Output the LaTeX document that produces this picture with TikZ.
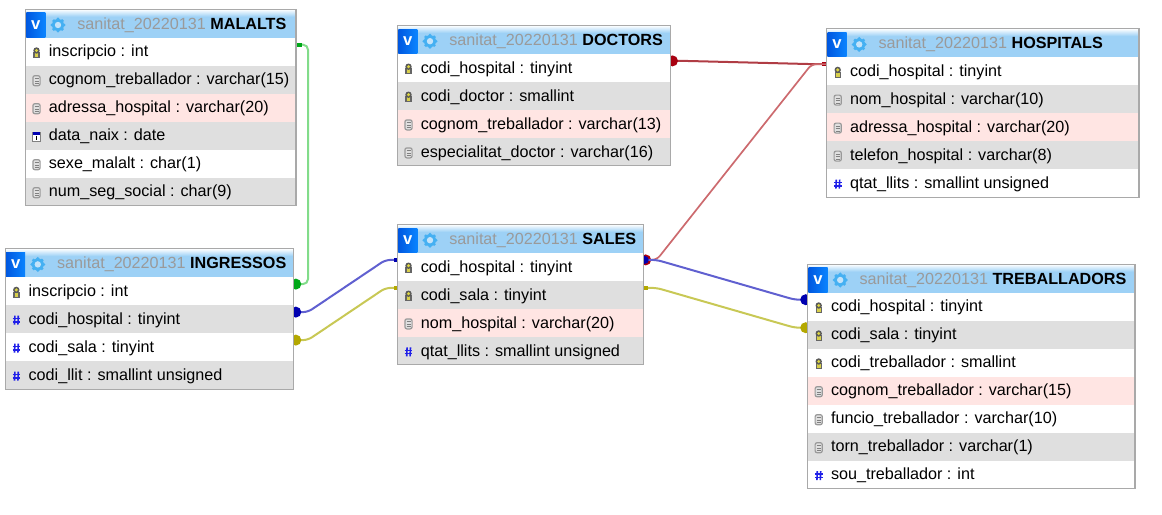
\documentclass[tikz,border=0pt]{standalone}
\usepackage{fontspec}
\setmainfont{Liberation Sans}
\usetikzlibrary{positioning,backgrounds}

\definecolor{headblue}{HTML}{9DD1F6}
\definecolor{rowgreycol}{HTML}{DFDFDF}
\definecolor{rowpinkcol}{HTML}{FFE5E3}
\definecolor{edgegrey}{HTML}{A9A9A9}
\definecolor{titlegrey}{HTML}{9A9A9A}
\definecolor{gearblue}{HTML}{45B0F2}
\definecolor{hashblue}{HTML}{2020E8}
\definecolor{vleft}{HTML}{0058E0}
\definecolor{vright}{HTML}{0A84FF}
\definecolor{greenline}{HTML}{82DC8A}
\definecolor{greencap}{HTML}{00A818}
\definecolor{blueline}{HTML}{6060D0}
\definecolor{bluecap}{HTML}{0000B0}
\definecolor{yellowline}{HTML}{C8C855}
\definecolor{yellowcap}{HTML}{B4A800}
\definecolor{redline}{HTML}{CC6A6E}
\definecolor{reddark}{HTML}{B03C44}
\definecolor{redcap}{HTML}{A80010}

\pgfdeclareverticalshading{headshade}{100bp}{color(0bp)=(headblue); color(62bp)=(headblue); color(75bp)=(white); color(100bp)=(white)}

\def\px{0.02cm}

\tikzset{
    headbox/.style={anchor=north west, minimum height=28.4*\px, inner sep=0pt, outer sep=0pt, shading=headshade},
    headtext/.style={anchor=west, inner sep=0pt, font=\fontsize{9.2}{11}\selectfont, text height=7pt, text depth=2pt},
    vbox/.style={anchor=west, minimum width=19*\px, minimum height=24.4*\px, inner sep=0pt, left color=vleft, right color=vright, text=white, font=\fontsize{9.5}{11}\selectfont\bfseries},
    rowbox/.style={minimum height=28*\px, inner sep=0pt, outer sep=0pt},
    rowwhite/.style={fill=white},
    rowgrey/.style={fill=rowgreycol},
    rowpink/.style={fill=rowpinkcol},
    rowtext/.style={anchor=west, inner sep=0pt, font=\fontsize{9.2}{11}\selectfont, text height=7pt, text depth=2pt},
    tableedge/.style={draw=edgegrey, line width=1.1*\px},
    link/.style={line width=2*\px, rounded corners=5*\px},
    keyicon/.pic={
        \fill[black!60] (-3.2,-0.5) rectangle (3.2,5.5);
        \fill[yellow!65!gray] (-1.8,0.5) rectangle (1.8,4.5);
        \fill[black!65] (0,-2.2) circle[radius=3.2];
        \fill[yellow!70!gray] (0,-2.2) circle[radius=1.7];
    },
    texticon/.pic={
        \draw[black!40, fill=black!12, line width=1.2*\px, rounded corners=2*\px] (-3.6,-5) rectangle (3.6,5);
        \draw[black!50, line width=0.9*\px] (-2,-2) -- (2,-2);
        \draw[black!50, line width=0.9*\px] (-2,0.5) -- (2,0.5);
        \draw[black!50, line width=0.9*\px] (-2,3) -- (2,3);
    },
    dateicon/.pic={
        \draw[black!50, fill=white, line width=1*\px] (-3.6,-4) rectangle (3.6,4.5);
        \fill[blue!70!black] (-3.6,-4.5) rectangle (3.6,-1.8);
        \draw[black, line width=1*\px] (0,-0.8) -- (0,3);
    },
    hashicon/.pic={
        \draw[hashblue, line width=1.6*\px] (-1.4,-4.5) -- (-1.8,4.5);
        \draw[hashblue, line width=1.6*\px] (2,-4.5) -- (1.6,4.5);
        \draw[hashblue, line width=1.6*\px] (-3.8,-1.6) -- (3.8,-1.6);
        \draw[hashblue, line width=1.6*\px] (-3.8,1.6) -- (3.8,1.6);
    },
    gearicon/.pic={
        \foreach \a in {0,45,...,315} {
            \fill[gearblue] (\a:5.8) circle[radius=1.8];
        }
        \fill[gearblue] (0,0) circle[radius=6];
        \fill[headblue!60!white] (0,0) circle[radius=3.2];
    },
}

% name, top left corner, width, title
\newcommand{\tablehead}[4]{
    \def\tablewidth{#3}
    \node[headbox, minimum width=#3*\px] (#1) at #2 {};
    \node[vbox] (#1v) at ([shift={(0.5,1.5)}]#1.west) {v};
    \pic at ([shift={(32.5,1.5)}]#1.west) {gearicon};
    \node[headtext] (#1t) at ([shift={(51.5,1.5)}]#1.west) {\textcolor{titlegrey}{sanitat\_20220131} \textbf{#4}};
}

% name, row above, fill style, icon, text
\newcommand{\tablerow}[5]{
    \node[rowbox, #3, minimum width=\tablewidth*\px, below=0pt of #2] (#1) {};
    \pic at ([shift={(11,1)}]#1.west) {#4};
    \node[rowtext] (#1t) at ([shift={(23,0.8)}]#1.west) {#5};
    \coordinate (#1E) at ([shift={(0,-7)}]#1.east);
    \coordinate (#1W) at ([shift={(0,-7)}]#1.west);
}

\begin{document}
\begin{tikzpicture}[x=\px, y=-\px]
    \useasboundingbox (0,0) rectangle (1162,514);

    % MALALTS
    \tablehead{mal}{(25.5,9.3)}{270.5}{MALALTS}
    \tablerow{mal1}{mal}{rowwhite}{keyicon}{inscripcio : int}
    \tablerow{mal2}{mal1}{rowgrey}{texticon}{cognom\_treballador : varchar(15)}
    \tablerow{mal3}{mal2}{rowpink}{texticon}{adressa\_hospital : varchar(20)}
    \tablerow{mal4}{mal3}{rowgrey}{dateicon}{data\_naix : date}
    \tablerow{mal5}{mal4}{rowwhite}{texticon}{sexe\_malalt : char(1)}
    \tablerow{mal6}{mal5}{rowgrey}{texticon}{num\_seg\_social : char(9)}
    \draw[tableedge] (mal.north west) rectangle (mal6.south east);

    % INGRESSOS
    \tablehead{ing}{(5.3,248.7)}{288.5}{INGRESSOS}
    \tablerow{ing1}{ing}{rowwhite}{keyicon}{inscripcio : int}
    \tablerow{ing2}{ing1}{rowgrey}{hashicon}{codi\_hospital : tinyint}
    \tablerow{ing3}{ing2}{rowwhite}{hashicon}{codi\_sala : tinyint}
    \tablerow{ing4}{ing3}{rowgrey}{hashicon}{codi\_llit : smallint unsigned}
    \draw[tableedge] (ing.north west) rectangle (ing4.south east);

    % DOCTORS
    \tablehead{doc}{(397.5,25.5)}{273}{DOCTORS}
    \tablerow{doc1}{doc}{rowwhite}{keyicon}{codi\_hospital : tinyint}
    \tablerow{doc2}{doc1}{rowgrey}{keyicon}{codi\_doctor : smallint}
    \tablerow{doc3}{doc2}{rowpink}{texticon}{cognom\_treballador : varchar(13)}
    \tablerow{doc4}{doc3}{rowgrey}{texticon}{especialitat\_doctor : varchar(16)}
    \draw[tableedge] (doc.north west) rectangle (doc4.south east);

    % SALES
    \tablehead{sal}{(397.5,224.5)}{246.2}{SALES}
    \tablerow{sal1}{sal}{rowwhite}{keyicon}{codi\_hospital : tinyint}
    \tablerow{sal2}{sal1}{rowgrey}{keyicon}{codi\_sala : tinyint}
    \tablerow{sal3}{sal2}{rowpink}{texticon}{nom\_hospital : varchar(20)}
    \tablerow{sal4}{sal3}{rowgrey}{hashicon}{qtat\_llits : smallint unsigned}
    \draw[tableedge] (sal.north west) rectangle (sal4.south east);

    % HOSPITALS
    \tablehead{hos}{(826.7,28.7)}{312.3}{HOSPITALS}
    \tablerow{hos1}{hos}{rowwhite}{keyicon}{codi\_hospital : tinyint}
    \tablerow{hos2}{hos1}{rowgrey}{texticon}{nom\_hospital : varchar(10)}
    \tablerow{hos3}{hos2}{rowpink}{texticon}{adressa\_hospital : varchar(20)}
    \tablerow{hos4}{hos3}{rowgrey}{texticon}{telefon\_hospital : varchar(8)}
    \tablerow{hos5}{hos4}{rowwhite}{hashicon}{qtat\_llits : smallint unsigned}
    \draw[tableedge] (hos.north west) rectangle (hos5.south east);

    % TREBALLADORS
    \tablehead{tre}{(807.7,264.3)}{327.3}{TREBALLADORS}
    \tablerow{tre1}{tre}{rowwhite}{keyicon}{codi\_hospital : tinyint}
    \tablerow{tre2}{tre1}{rowgrey}{keyicon}{codi\_sala : tinyint}
    \tablerow{tre3}{tre2}{rowwhite}{keyicon}{codi\_treballador : smallint}
    \tablerow{tre4}{tre3}{rowpink}{texticon}{cognom\_treballador : varchar(15)}
    \tablerow{tre5}{tre4}{rowwhite}{texticon}{funcio\_treballador : varchar(10)}
    \tablerow{tre6}{tre5}{rowgrey}{texticon}{torn\_treballador : varchar(1)}
    \tablerow{tre7}{tre6}{rowwhite}{hashicon}{sou\_treballador : int}
    \draw[tableedge] (tre.north west) rectangle (tre7.south east);

    % links go under the tables
    \begin{scope}[on background layer]
        \draw[link, greenline] (mal1E) -- ++(12,0) |- (ing1E);
        \fill[greencap] ([shift={(2,0)}]ing1E) circle[radius=5.5];
        \fill[greencap] ([shift={(0,-2)}]mal1E) rectangle ([shift={(5.5,2)}]mal1E);

        \draw[link, blueline] (ing2E) -- ++(14,0) -- ([shift={(-12,0)}]sal1W) -- (sal1W);
        \fill[bluecap] ([shift={(2,0)}]ing2E) circle[radius=5.5];
        \fill[bluecap] ([shift={(-4,-2)}]sal1W) rectangle ([shift={(0,2)}]sal1W);

        \draw[link, yellowline] (ing3E) -- ++(14,0) -- ([shift={(-12,0)}]sal2W) -- (sal2W);
        \fill[yellowcap] ([shift={(2,0)}]ing3E) circle[radius=5.5];
        \fill[yellowcap] ([shift={(-4,-2)}]sal2W) rectangle ([shift={(0,2)}]sal2W);

        \draw[link, reddark] (doc1E) -- ++(14,0) -- ([shift={(-15,0)}]hos1W) -- (hos1W);
        \fill[redcap] ([shift={(2,0)}]doc1E) circle[radius=5.5];
        \fill[redcap] ([shift={(-5,-2)}]hos1W) rectangle ([shift={(0,2)}]hos1W);

        \draw[link, redline, line width=1.7*\px] (sal1E) -- ++(13,0) -- ([shift={(-15,0)}]hos1W) -- (hos1W);
        \fill[redcap] ([shift={(2,0)}]sal1E) circle[radius=5.5];

        \draw[link, blueline] (sal1E) -- ++(13,0) -- ([shift={(-13,0)}]tre1W) -- (tre1W);
        \fill[bluecap] ([shift={(1,0)}]sal1E) circle[radius=4];
        \fill[bluecap] ([shift={(-2,0)}]tre1W) circle[radius=5.5];

        \draw[link, yellowline] (sal2E) -- ++(13,0) -- ([shift={(-13,0)}]tre2W) -- (tre2W);
        \fill[yellowcap] ([shift={(0,-2)}]sal2E) rectangle ([shift={(4,2)}]sal2E);
        \fill[yellowcap] ([shift={(-2,0)}]tre2W) circle[radius=5.5];
    \end{scope}
\end{tikzpicture}
\end{document}
